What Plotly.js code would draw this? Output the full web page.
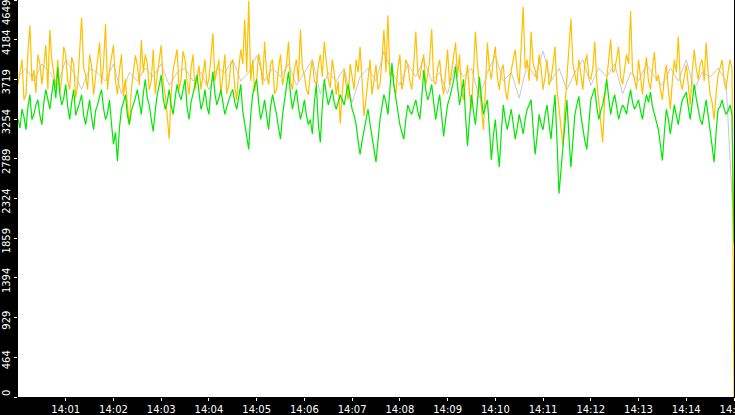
<!DOCTYPE html>
<html>
<head>
<meta charset="utf-8">
<script src="https://cdn.plot.ly/plotly-3.0.1.min.js"></script>
<style>
  html, body { margin: 0; padding: 0; background: #000; }
  #chart { width: 735px; height: 415px; }
</style>
</head>
<body>
<div id="chart"></div>
<script>
// samples every 2.5 s from 14:00:00 to 14:15:00 (last sample is the drop at the end)
const startTime = "2024-01-01 14:00:00";
const stepSeconds = 2.5;

const yellowValues = [
  3660, 3820, 3950, 3480, 3540, 4050, 4350, 3700, 3830, 3560, 4010, 3900, 3660, 3880, 4120, 3600, 4300, 3950, 3770, 3620,
  3950, 3560, 3720, 4100, 4010, 3700, 3600, 3980, 3890, 3500, 3660, 4020, 4440, 3850, 3770, 3600, 4010, 3880, 3540, 3750,
  3950, 4150, 3660, 3890, 4370, 3600, 3830, 3990, 4120, 3700, 3540, 3820, 4010, 3520, 3720, 3420, 3190, 3600, 3830, 4000,
  3890, 3650, 4180, 3800, 4010, 3900, 3600, 3700, 4070, 3550, 3770, 3950, 4120, 3680, 3540, 3300, 3020, 3550, 3830, 3950,
  4070, 3600, 3720, 4050, 3950, 3700, 3540, 3850, 4010, 3600, 3770, 3880, 3600, 3750, 3950, 3640, 3720, 3980, 4260, 3700,
  3830, 3950, 3540, 3780, 4010, 3550, 3660, 3900, 3950, 3620, 3480, 3850, 4070, 3900, 4420, 3800, 4640, 3700, 3950, 3580,
  3720, 4020, 3890, 3650, 4160, 3800, 3660, 3900, 3950, 3550, 3600, 3850, 4010, 3650, 3770, 3900, 4160, 3700, 3600, 3850,
  3950, 3700, 4300, 3850, 3770, 3600, 3540, 3800, 3950, 3700, 3660, 3880, 4010, 3750, 4160, 3900, 3720, 3620, 3950, 3800,
  3540, 3700, 3200, 3550, 3830, 3650, 3480, 3900, 3720, 3600, 3950, 3800, 4100, 3650, 3290, 3500, 3770, 3950, 3540, 3700,
  3890, 3600, 3660, 3950, 4300, 3800, 4470, 3750, 3830, 3650, 3540, 3850, 4010, 3600, 3720, 3950, 3890, 3700, 3600, 3900,
  4280, 3800, 3720, 3900, 4010, 3650, 3770, 3950, 4310, 3700, 3660, 3850, 3950, 3700, 3540, 3800, 4070, 3650, 3830, 3950,
  4150, 3750, 4010, 3600, 3480, 3700, 3890, 3550, 3370, 3800, 4280, 3900, 3660, 3450, 3130, 3600, 4150, 3850, 3720, 3950,
  4100, 3750, 3600, 3820, 3890, 3600, 3480, 3700, 3830, 3950, 4070, 3800, 3660, 4100, 4570, 3850, 3950, 3700, 4280, 3900,
  3830, 3700, 4010, 3850, 3600, 3750, 3950, 3650, 3720, 3900, 4100, 3600, 3370, 3150, 2940, 3400, 3720, 4050, 4430, 3900,
  3770, 3650, 3950, 3800, 3600, 3900, 4010, 3750, 3720, 3850, 4160, 3700, 3480, 3250, 2980, 3500, 3770, 3950, 4190, 3800,
  3830, 3950, 4100, 3750, 3660, 3850, 4010, 3900, 4520, 3800, 3720, 3600, 3950, 3750, 3540, 3800, 3980, 3700, 3600, 3850,
  4040, 3700, 3770, 3600, 3480, 3750, 3890, 3600, 3370, 3700, 3950, 3800, 4220, 3700, 3600, 3750, 3890, 3650, 3420, 3800,
  4070, 3850, 3720, 3900, 3950, 3700, 4150, 3800, 3540, 3450, 3250, 3550, 3770, 3850, 3950, 3700, 3600, 3800, 3950, 3850,
  0
];

const greenValues = [
  3250, 3150, 3370, 3280, 3130, 3400, 3540, 3250, 3310, 3420, 3480, 3300, 3190, 3450, 3600, 3500, 3370, 3550, 3720, 3500,
  3860, 3550, 3420, 3500, 3660, 3400, 3250, 3450, 3600, 3300, 3370, 3450, 3540, 3300, 3190, 3350, 3480, 3280, 3130, 3350,
  3420, 3520, 3600, 3380, 3250, 3320, 3480, 3200, 2960, 3100, 2760, 3150, 3370, 3450, 3540, 3300, 3190, 3350, 3420, 3500,
  3600, 3450, 3310, 3550, 3720, 3500, 3420, 3250, 3110, 3350, 3540, 3650, 3770, 3500, 3370, 3450, 3600, 3420, 3310, 3500,
  3660, 3550, 3480, 3600, 3720, 3400, 3250, 3450, 3540, 3650, 3770, 3550, 3370, 3450, 3600, 3400, 3310, 3600, 3810, 3550,
  3420, 3500, 3600, 3450, 3310, 3400, 3480, 3550, 3600, 3450, 3370, 3500, 3660, 3350, 3190, 3050, 2900, 3300, 3540, 3650,
  3720, 3450, 3250, 3350, 3480, 3300, 3130, 3400, 3540, 3420, 3310, 3150, 3020, 3300, 3480, 3650, 3810, 3550, 3370, 3500,
  3600, 3400, 3250, 3350, 3480, 3300, 3190, 3250, 3080, 3450, 3660, 3200, 2980, 3400, 3720, 3550, 3420, 3500, 3600, 3450,
  3370, 3450, 3540, 3480, 3420, 3550, 3660, 3500, 3370, 3300, 3190, 3000, 2840, 3000, 3130, 3250, 3370, 3200, 3020, 2900,
  2750, 3050, 3250, 3400, 3540, 3450, 3310, 3600, 3910, 3650, 3480, 3300, 3190, 3100, 3020, 3250, 3420, 3350, 3310, 3400,
  3480, 3350, 3250, 3500, 3830, 3600, 3480, 3550, 3660, 3450, 3250, 3400, 3540, 3300, 3050, 3250, 3420, 3500, 3600, 3700,
  3870, 3600, 3420, 3550, 3720, 3300, 2940, 3250, 3540, 3350, 3190, 3450, 3750, 3500, 3310, 3400, 3480, 3150, 2780, 3050,
  3250, 2950, 2690, 3100, 3420, 3250, 3130, 3250, 3370, 3200, 3020, 3150, 3310, 3200, 3080, 3250, 3370, 3420, 3480, 3150,
  2840, 3050, 3310, 3200, 3130, 3300, 3420, 3200, 3020, 3300, 3540, 3000, 2380, 2650, 2900, 3200, 3480, 3050, 2690, 3000,
  3310, 3420, 3520, 3300, 3130, 3000, 2900, 3250, 3480, 3550, 3620, 3400, 3250, 3350, 3420, 3550, 3720, 3500, 3310, 3450,
  3540, 3400, 3250, 3350, 3420, 3380, 3310, 3480, 3600, 3450, 3370, 3420, 3480, 3350, 3250, 3420, 3540, 3450, 3570, 3400,
  3310, 3250, 3130, 2950, 2770, 3100, 3370, 3250, 3080, 3250, 3420, 3300, 3190, 3350, 3480, 3520, 3570, 3400, 3250, 3450,
  3660, 3500, 3370, 3250, 3190, 3350, 3480, 3300, 3130, 2950, 2750, 3100, 3370, 3400, 3480, 3380, 3310, 3350, 3420, 3300,
  1800
];

// grey series mostly sits under the yellow one, sampled every 10 s
const greyStepSeconds = 10;
const greyValues = [
  3750, 3850, 3700, 3900, 3800, 3650, 3950, 3800, 3600, 3850,
  3800, 3700, 3900, 3550, 3800, 3700, 3850, 3750, 3900, 3650,
  3800, 3850, 3700, 3800, 3600, 3850, 3800, 3950, 3700, 3800,
  4000, 3700, 3850, 3750, 3900, 3650, 3800, 3950, 3550, 3800,
  3700, 3850, 3450, 3750, 3850, 3700, 4050, 3800, 3650, 3900,
  3750, 3950, 3700, 3800, 3550, 3900, 3750, 3850, 3500, 3800,
  4000, 3700, 3800, 3500, 3900, 3750, 4050, 3700, 3850, 3600,
  3800, 3950, 3650, 3850, 3750, 3900, 3550, 3800, 3700, 3900,
  3750, 3650, 3850, 3700, 3950, 3600, 3800, 3750, 3850, 3700,
  1880
];

const tickTimes = ["14:01", "14:02", "14:03", "14:04", "14:05", "14:06", "14:07",
  "14:08", "14:09", "14:10", "14:11", "14:12", "14:13", "14:14", "14:15"];
const yTickValues = [0, 464.9, 929.8, 1394.7, 1859.6, 2324.5, 2789.4, 3254.3, 3719.2, 4184.1, 4649];
const yTickLabels = ["0", "464", "929", "1394", "1859", "2324", "2789", "3254", "3719", "4184", "4649"];

function timesFor(n, step) {
  const t0 = new Date(startTime.replace(" ", "T")).getTime();
  const p = (v, w) => String(v).padStart(w || 2, "0");
  const out = [];
  for (let i = 0; i < n; i++) {
    const d = new Date(t0 + i * step * 1000);
    out.push("2024-01-01 " + p(d.getHours()) + ":" + p(d.getMinutes()) + ":" +
             p(d.getSeconds()) + "." + p(d.getMilliseconds(), 3));
  }
  return out;
}

const data = [
  {
    x: timesFor(greyValues.length, greyStepSeconds),
    y: greyValues,
    type: "scatter",
    mode: "lines",
    line: {color: "#c8c8c8", width: 1},
    hoverinfo: "skip"
  },
  {
    x: timesFor(yellowValues.length, stepSeconds),
    y: yellowValues,
    type: "scatter",
    mode: "lines",
    line: {color: "#ffc000", width: 1.2},
    hoverinfo: "skip"
  },
  {
    x: timesFor(greenValues.length, stepSeconds),
    y: greenValues,
    type: "scatter",
    mode: "lines",
    line: {color: "#00e800", width: 1.2},
    hoverinfo: "skip"
  }
];

const tickFont = {family: "DejaVu Sans", size: 10, color: "#ffffff"};

// end labels are kept inside the plot height, so they are drawn as annotations
const lastIdx = yTickLabels.length - 1;
const yTickText = yTickLabels.map((t, i) => (i === 0 || i === lastIdx) ? "" : t);

const layout = {
  width: 735,
  height: 415,
  showlegend: false,
  paper_bgcolor: "#000000",
  plot_bgcolor: "#ffffff",
  margin: {l: 18, r: 1, t: 0, b: 18, pad: 0},
  xaxis: {
    type: "date",
    range: ["2024-01-01 14:00:00", "2024-01-01 14:15:00"],
    tickmode: "array",
    tickvals: tickTimes.map(t => "2024-01-01 " + t + ":00"),
    ticktext: tickTimes,
    ticks: "outside",
    ticklen: 3,
    tickwidth: 1,
    tickcolor: "#ffffff",
    tickfont: tickFont,
    ticklabeloverflow: "allow",
    showgrid: false,
    zeroline: false,
    showline: false,
    fixedrange: true
  },
  yaxis: {
    range: [0, 4649],
    tickmode: "array",
    tickvals: yTickValues,
    ticktext: yTickText,
    tickangle: -90,
    ticks: "outside",
    ticklen: 3,
    tickwidth: 1,
    tickcolor: "#ffffff",
    tickfont: tickFont,
    ticklabelshift: 4,
    ticklabeloverflow: "allow",
    showgrid: false,
    zeroline: false,
    showline: false,
    fixedrange: true
  },
  annotations: [
    {
      text: yTickLabels[lastIdx], xref: "paper", yref: "paper", x: 0, y: 1,
      xanchor: "center", yanchor: "middle", xshift: -12, yshift: -13,
      textangle: -90, showarrow: false, font: tickFont
    },
    {
      text: yTickLabels[0], xref: "paper", yref: "paper", x: 0, y: 0,
      xanchor: "center", yanchor: "middle", xshift: -12, yshift: 4,
      textangle: -90, showarrow: false, font: tickFont
    }
  ]
};

Plotly.newPlot("chart", data, layout, {displayModeBar: false, staticPlot: true});
</script>
</body>
</html>
